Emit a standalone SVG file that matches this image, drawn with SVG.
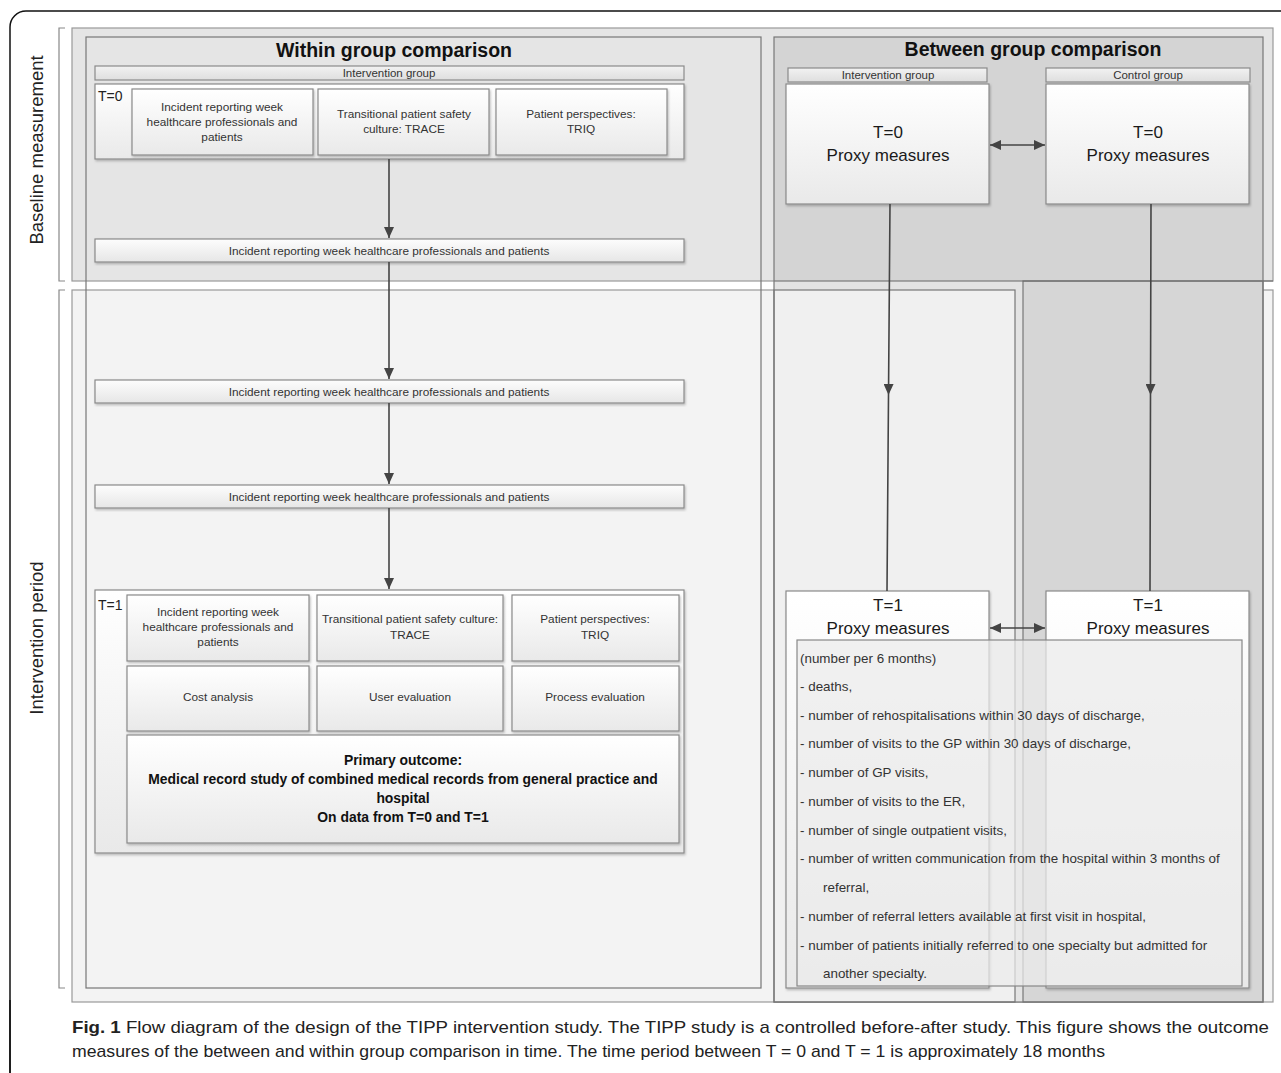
<svg xmlns="http://www.w3.org/2000/svg" width="1281" height="1073" viewBox="0 0 1281 1073">
<defs>
<style>
text{font-family:"Liberation Sans",Arial,sans-serif;fill:#222}
.box{fill:url(#gBox);stroke:#8a8a8a;stroke-width:1.2;filter:url(#sh)}
.bar{fill:url(#gBar);stroke:#8a8a8a;stroke-width:1.2;filter:url(#sh)}
.hdr{fill:url(#gHdr);stroke:#8a8a8a;stroke-width:1.2}
.pane{fill:none;stroke:#777;stroke-width:1.2}
.conn{stroke:#444;stroke-width:1.6;fill:none}
.sm{font-size:11.8px;text-anchor:middle;fill:#333}
.hd{font-size:11.5px;text-anchor:middle;fill:#333}
.lbl{font-size:14px;fill:#222}
.px{font-size:17px;text-anchor:middle;fill:#1a1a1a}
.ttl{font-size:19.5px;font-weight:bold;text-anchor:middle;fill:#111}
.po{font-size:13.9px;font-weight:bold;text-anchor:middle;fill:#111}
.li{font-size:13.4px;fill:#333}
.side{font-size:18.5px;text-anchor:middle;fill:#222}
.cap{font-size:17px;fill:#222}
</style>
<linearGradient id="gBox" x1="0" y1="0" x2="0" y2="1"><stop offset="0" stop-color="#ffffff"/><stop offset="1" stop-color="#e9e9e9"/></linearGradient>
<linearGradient id="gBar" x1="0" y1="0" x2="0" y2="1"><stop offset="0" stop-color="#fdfdfd"/><stop offset="1" stop-color="#e6e6e6"/></linearGradient>
<linearGradient id="gHdr" x1="0" y1="0" x2="0" y2="1"><stop offset="0" stop-color="#f2f2f2"/><stop offset="1" stop-color="#dedede"/></linearGradient>
<filter id="sh" x="-5%" y="-5%" width="110%" height="120%"><feDropShadow dx="1" dy="1.5" stdDeviation="1" flood-color="#000" flood-opacity="0.25"/></filter>
<marker id="ah" viewBox="0 0 11 10" refX="11" refY="5" markerWidth="11" markerHeight="10" markerUnits="userSpaceOnUse" orient="auto-start-reverse"><path d="M0,0 L11,5 L0,10 z" fill="#444"/></marker>
</defs>

<!-- outer frame -->
<rect x="10" y="11" width="1300" height="1100" rx="16" fill="#fff" stroke="#111" stroke-width="1.5"/>

<!-- side brackets and labels -->
<g id="side-labels">
<path d="M65,28 H59 V281 H65" fill="none" stroke="#888" stroke-width="1.2"/>
<path d="M65,290 H59 V988 H65" fill="none" stroke="#888" stroke-width="1.2"/>
<text class="side" transform="translate(43,150) rotate(-90)">Baseline measurement</text>
<text class="side" transform="translate(43,638) rotate(-90)">Intervention period</text>
</g>

<!-- bands -->
<g id="bands">
<rect x="72" y="28" width="1201" height="253" fill="#e5e5e5" stroke="#999" stroke-width="1.2"/>
<rect x="72" y="290" width="1201" height="712" fill="#f3f3f3" stroke="#999" stroke-width="1.2"/>
<rect x="774" y="37" width="489" height="244" fill="#d4d4d4"/>
<rect x="774" y="281" width="489" height="721" fill="#e3e3e3"/>
<rect x="774" y="290" width="241" height="712" fill="#f0f0f0" stroke="#777" stroke-width="1.2"/>
<rect x="1023" y="281" width="240" height="721" fill="#d6d6d6" stroke="#777" stroke-width="1.2"/>
<line x1="774" y1="281" x2="1273" y2="281" stroke="#666" stroke-width="1.2"/>
<rect class="pane" x="774" y="37" width="489" height="965"/>
<rect class="pane" x="86" y="37" width="675" height="951"/>
</g>

<!-- within group comparison -->
<g id="within-title"><text class="ttl" x="394" y="57">Within group comparison</text></g>
<g id="within-header">
<rect class="hdr" x="95" y="66" width="589" height="14"/>
<text class="hd" x="389" y="77">Intervention group</text>
</g>
<g id="t0-within">
<rect class="box" x="95" y="84" width="589" height="75"/>
<text class="lbl" x="98" y="101">T=0</text>
</g>
<g id="t0-incident">
<rect class="box" x="132" y="89" width="181" height="66"/>
<text class="sm" x="222" y="111">Incident reporting week</text>
<text class="sm" x="222" y="126">healthcare professionals and</text>
<text class="sm" x="222" y="141">patients</text>
</g>
<g id="t0-trace">
<rect class="box" x="318" y="89" width="171" height="66"/>
<text class="sm" x="404" y="118">Transitional patient safety</text>
<text class="sm" x="404" y="133">culture: TRACE</text>
</g>
<g id="t0-triq">
<rect class="box" x="496" y="89" width="171" height="66"/>
<text class="sm" x="581" y="118">Patient perspectives:</text>
<text class="sm" x="581" y="133">TRIQ</text>
</g>
<g id="irw-1">
<rect class="bar" x="95" y="239" width="589" height="23"/>
<text class="sm" x="389" y="255">Incident reporting week healthcare professionals and patients</text>
</g>
<g id="irw-2">
<rect class="bar" x="95" y="380" width="589" height="23"/>
<text class="sm" x="389" y="396">Incident reporting week healthcare professionals and patients</text>
</g>
<g id="irw-3">
<rect class="bar" x="95" y="485" width="589" height="23"/>
<text class="sm" x="389" y="501">Incident reporting week healthcare professionals and patients</text>
</g>
<g id="t1-within">
<rect class="box" x="95" y="590" width="589" height="263"/>
<text class="lbl" x="98" y="610">T=1</text>
</g>
<g id="t1-incident">
<rect class="box" x="127" y="595" width="182" height="66"/>
<text class="sm" x="218" y="616">Incident reporting week</text>
<text class="sm" x="218" y="631">healthcare professionals and</text>
<text class="sm" x="218" y="646">patients</text>
</g>
<g id="t1-trace">
<rect class="box" x="317" y="595" width="186" height="66"/>
<text class="sm" x="410" y="623">Transitional patient safety culture:</text>
<text class="sm" x="410" y="639">TRACE</text>
</g>
<g id="t1-triq">
<rect class="box" x="512" y="595" width="167" height="66"/>
<text class="sm" x="595" y="623">Patient perspectives:</text>
<text class="sm" x="595" y="639">TRIQ</text>
</g>
<g id="cost">
<rect class="box" x="127" y="666" width="182" height="65"/>
<text class="sm" x="218" y="701">Cost analysis</text>
</g>
<g id="user-eval">
<rect class="box" x="317" y="666" width="186" height="65"/>
<text class="sm" x="410" y="701">User evaluation</text>
</g>
<g id="process-eval">
<rect class="box" x="512" y="666" width="167" height="65"/>
<text class="sm" x="595" y="701">Process evaluation</text>
</g>
<g id="primary">
<rect class="box" x="127" y="735" width="552" height="108"/>
<text class="po" x="403" y="765">Primary outcome:</text>
<text class="po" x="403" y="784">Medical record study of combined medical records from general practice and</text>
<text class="po" x="403" y="803">hospital</text>
<text class="po" x="403" y="822">On data from T=0 and T=1</text>
</g>

<!-- between group comparison -->
<g id="between-title"><text class="ttl" x="1033" y="56">Between group comparison</text></g>
<g id="hdr-int">
<rect class="hdr" x="788" y="68" width="199" height="14"/>
<text class="hd" x="888" y="79">Intervention group</text>
</g>
<g id="hdr-ctrl">
<rect class="hdr" x="1046" y="68" width="204" height="14"/>
<text class="hd" x="1148" y="79">Control group</text>
</g>
<g id="t0-int">
<rect class="box" x="786" y="84" width="203" height="120"/>
<text class="px" x="888" y="138">T=0</text>
<text class="px" x="888" y="161">Proxy measures</text>
</g>
<g id="t0-ctrl">
<rect class="box" x="1046" y="84" width="203" height="120"/>
<text class="px" x="1148" y="138">T=0</text>
<text class="px" x="1148" y="161">Proxy measures</text>
</g>
<g id="t1-int">
<rect class="box" x="786" y="591" width="203" height="397"/>
<text class="px" x="888" y="611">T=1</text>
<text class="px" x="888" y="634">Proxy measures</text>
</g>
<g id="t1-ctrl">
<rect class="box" x="1046" y="591" width="203" height="397"/>
<text class="px" x="1148" y="611">T=1</text>
<text class="px" x="1148" y="634">Proxy measures</text>
</g>

<!-- connectors -->
<g id="connectors">
<path class="conn" d="M389,159 V238" marker-end="url(#ah)"/>
<path class="conn" d="M389,262 V379" marker-end="url(#ah)"/>
<path class="conn" d="M389,403 V484" marker-end="url(#ah)"/>
<path class="conn" d="M389,508 V589" marker-end="url(#ah)"/>
<path class="conn" d="M890,204 L888.5,395 L887,591" marker-mid="url(#ah)"/>
<path class="conn" d="M1151,204 L1150.5,395 L1150,591" marker-mid="url(#ah)"/>
<path class="conn" d="M990,145 H1045" marker-start="url(#ah)" marker-end="url(#ah)"/>
<path class="conn" d="M990,628 H1045" marker-start="url(#ah)" marker-end="url(#ah)"/>
</g>

<!-- proxy measure list -->
<g id="proxy-list">
<rect x="797" y="640" width="445" height="346" fill="#ebebeb" fill-opacity="0.72" stroke="#888" stroke-width="1.2"/>
<text class="li" x="800" y="663">(number per 6 months)</text>
<text class="li" x="800" y="691">- deaths,</text>
<text class="li" x="800" y="720">- number of rehospitalisations within 30 days of discharge,</text>
<text class="li" x="800" y="748">- number of visits to the GP within 30 days of discharge,</text>
<text class="li" x="800" y="777">- number of GP visits,</text>
<text class="li" x="800" y="806">- number of visits to the ER,</text>
<text class="li" x="800" y="835">- number of single outpatient visits,</text>
<text class="li" x="800" y="863">- number of written communication from the hospital within 3 months of</text>
<text class="li" x="823" y="892">referral,</text>
<text class="li" x="800" y="921">- number of referral letters available at first visit in hospital,</text>
<text class="li" x="800" y="950">- number of patients initially referred to one specialty but admitted for</text>
<text class="li" x="823" y="978">another specialty.</text>
</g>

<!-- caption -->
<g id="caption">
<rect x="11" y="1008" width="1270" height="65" fill="#fff"/>
<text class="cap" x="72" y="1033" textLength="1197" lengthAdjust="spacingAndGlyphs"><tspan font-weight="bold">Fig. 1</tspan> Flow diagram of the design of the TIPP intervention study. The TIPP study is a controlled before-after study. This figure shows the outcome</text>
<text class="cap" x="72" y="1057" textLength="1033" lengthAdjust="spacingAndGlyphs">measures of the between and within group comparison in time. The time period between T = 0 and T = 1 is approximately 18 months</text>
<line x1="10" y1="1000" x2="10" y2="1073" stroke="#111" stroke-width="1.5"/>
</g>
</svg>
